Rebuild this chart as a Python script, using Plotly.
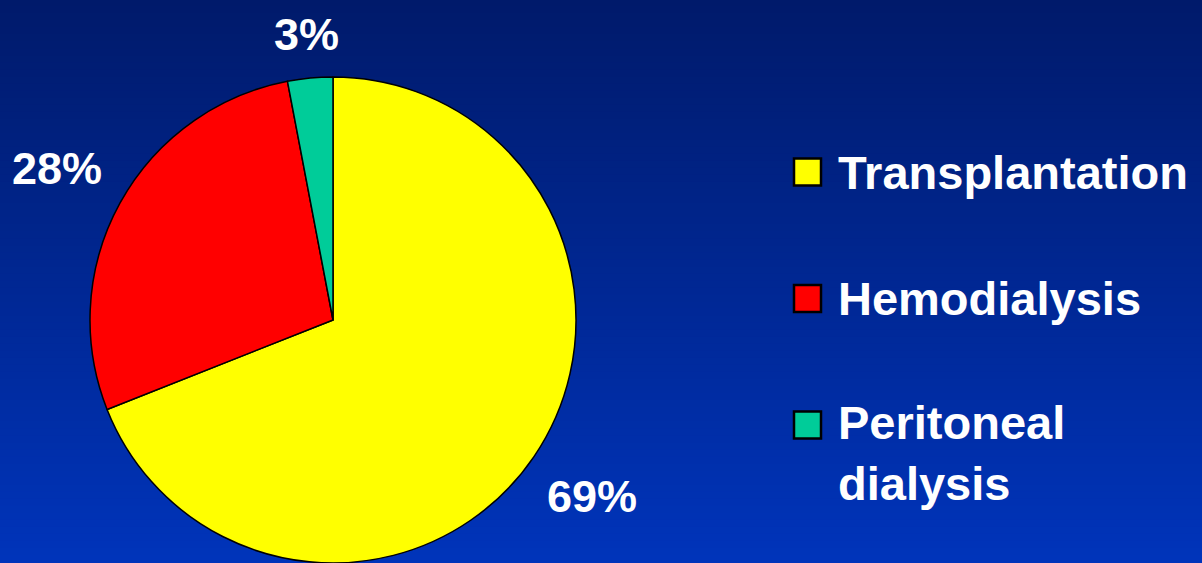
import math
import plotly.graph_objects as go

categories = ["Transplantation", "Hemodialysis", "Peritoneal dialysis"]
legend_labels = ["Transplantation", "Hemodialysis", "Peritoneal<br>dialysis"]
values = [69, 28, 3]
colors = ["#FFFF00", "#FF0000", "#00CC99"]

W, H = 1202, 563
FONT = "Liberation Sans, Arial, sans-serif"
LBL_SIZE = 45

fig = go.Figure()

# Pie
cx, cy, r = 333, 320, 243
fig.add_trace(go.Pie(
    labels=categories, values=values, sort=False, direction="clockwise", rotation=0,
    marker=dict(colors=colors, line=dict(color="black", width=1.5)),
    textinfo="none",
    domain=dict(x=[(cx - r) / W, (cx + r) / W], y=[(H - cy - r) / H, (H - cy + r) / H]),
    showlegend=False, automargin=False, hoverinfo="label+percent",
))

# Percentage labels placed outside each slice's mid-angle
total = sum(values)
cum = 0
for v in values:
    mid = (cum + v / 2) / total * 2 * math.pi
    cum += v
    txt = "%d%%" % round(v / total * 100)
    ux, uy = math.sin(mid), -math.cos(mid)
    w = (len(txt) - 1) * 0.556 * LBL_SIZE + 0.889 * LBL_SIZE
    h = 0.75 * LBL_SIZE
    ext = abs(ux) * w / 2 + abs(uy) * h / 2
    d = r + 24 + ext
    fig.add_annotation(
        x=cx + ux * d, y=cy + uy * d, xref="x2", yref="y2", text=txt, showarrow=False,
        xanchor="center", yanchor="middle",
        font=dict(family=FONT, size=LBL_SIZE, color="white", weight="bold"),
    )

# Manual legend
leg_x = 807.5
leg_y0, leg_dy = 172, 126.5
leg_ys = [leg_y0 + i * leg_dy for i in range(len(categories))]
fig.add_trace(go.Scatter(
    x=[leg_x] * len(categories), y=leg_ys, mode="markers",
    marker=dict(symbol="square", size=27, color=colors, line=dict(color="black", width=2.5)),
    xaxis="x2", yaxis="y2", showlegend=False, hoverinfo="skip",
))
for i, lab in enumerate(legend_labels):
    nlines = lab.count("<br>") + 1
    fig.add_annotation(
        x=836, y=leg_ys[i] + (nlines - 1) * 28, xref="x2", yref="y2",
        text=lab, showarrow=False, xanchor="left", yanchor="middle", align="left",
        font=dict(family=FONT, size=47, color="white", weight="bold"),
    )

# Gradient background
top = (0, 26, 107)
bot = (0, 52, 186)
N = 80
for k in range(N):
    t = k / (N - 1)
    c = tuple(round(top[j] + (bot[j] - top[j]) * t) for j in range(3))
    fig.add_shape(type="rect", xref="paper", yref="paper", x0=0, x1=1,
                  y0=1 - (k + 1) / N, y1=1 - k / N + 0.002,
                  fillcolor="rgb(%d,%d,%d)" % c, line=dict(width=0), layer="below")

fig.update_layout(
    width=W, height=H, margin=dict(l=0, r=0, t=0, b=0),
    paper_bgcolor="#001a6b", plot_bgcolor="rgba(0,0,0,0)",
    xaxis2=dict(range=[0, W], domain=[0, 1], visible=False, anchor="y2", fixedrange=True),
    yaxis2=dict(range=[H, 0], domain=[0, 1], visible=False, anchor="x2", fixedrange=True),
    xaxis=dict(visible=False), yaxis=dict(visible=False),
    showlegend=False,
)

fig.write_html("out.html")
